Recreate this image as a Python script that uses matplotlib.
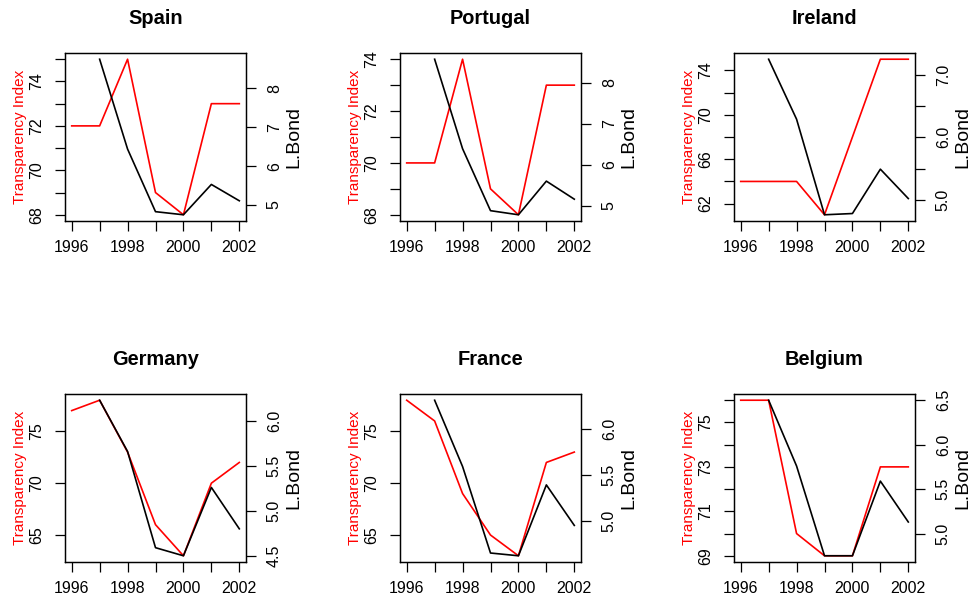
import matplotlib
matplotlib.use("Agg")
import matplotlib.pyplot as plt
import numpy as np

plt.rcParams['font.family'] = ['Liberation Sans', 'DejaVu Sans']

years = [1996, 1997, 1998, 1999, 2000, 2001, 2002]
countries = ["Spain", "Portugal", "Ireland", "Germany", "France", "Belgium"]

# transparency index (red, left axis)
ti_spain = [72, 72, 75, 69, 68, 73, 73]
ti_portugal = [70, 70, 74, 69, 68, 73, 73]
ti_ireland = [64, 64, 64, 61, 68, 75, 75]
ti_germany = [77, 78, 73, 66, 63, 70, 72]
ti_france = [78, 76, 69, 65, 63, 72, 73]
ti_belgium = [76, 76, 70, 69, 69, 73, 73]

# long bond yield (black, right axis), no value for 1996
bond_spain = [np.nan, 8.75, 6.44, 4.83, 4.75, 5.53, 5.11]
bond_portugal = [np.nan, 8.57, 6.39, 4.88, 4.78, 5.60, 5.16]
bond_ireland = [np.nan, 7.25, 6.29, 4.76, 4.78, 5.49, 5.02]
bond_germany = [np.nan, 6.23, 5.66, 4.59, 4.50, 5.26, 4.80]
bond_france = [np.nan, 6.31, 5.59, 4.65, 4.62, 5.39, 4.95]
bond_belgium = [np.nan, 6.50, 5.76, 4.75, 4.75, 5.59, 5.13]

ti_all = [ti_spain, ti_portugal, ti_ireland, ti_germany, ti_france, ti_belgium]
bond_all = [bond_spain, bond_portugal, bond_ireland, bond_germany, bond_france, bond_belgium]

# axis ticks: (all ticks, labelled ticks)
left_ticks = [
    (range(68, 76), [68, 70, 72, 74]),
    (range(68, 75), [68, 70, 72, 74]),
    (range(62, 75, 2), [62, 66, 70, 74]),
    ([65, 70, 75], [65, 70, 75]),
    ([65, 70, 75], [65, 70, 75]),
    (range(69, 77), [69, 71, 73, 75]),
]
right_ticks = [
    ([5, 6, 7, 8], [5, 6, 7, 8]),
    ([5, 6, 7, 8], [5, 6, 7, 8]),
    ([5.0, 5.5, 6.0, 6.5, 7.0], [5.0, 6.0, 7.0]),
    ([4.5, 5.0, 5.5, 6.0], [4.5, 5.0, 5.5, 6.0]),
    ([5.0, 5.5, 6.0], [5.0, 5.5, 6.0]),
    ([5.0, 5.5, 6.0, 6.5], [5.0, 5.5, 6.0, 6.5]),
]
one_decimal = [False, False, True, True, True, True]


def fmt(v, dec):
    return "%.1f" % v if dec else "%d" % v


def pad_lim(lo, hi):
    d = (hi - lo) * 0.04
    return lo - d, hi + d


W, H = 972, 606
fig = plt.figure(figsize=(W / 100, H / 100), dpi=100)

col_left = [65, 400, 734]
row_top = [53, 394]
aw, ah = 181, 168

for i, name in enumerate(countries):
    r, c = divmod(i, 3)
    rect = [col_left[c] / W, 1 - (row_top[r] + ah) / H, aw / W, ah / H]
    ax = fig.add_axes(rect)
    ti = ti_all[i]
    bond = np.array(bond_all[i])

    ax.plot(years, ti, color="#FF0000", lw=1.2)
    ax.set_xlim(*pad_lim(years[0], years[-1]))
    ax.set_ylim(*pad_lim(min(ti), max(ti)))
    ax.set_xticks(years)
    ax.set_xticklabels([str(y) if y % 2 == 0 else "" for y in years])
    lt, ll = left_ticks[i]
    ax.set_yticks(list(lt))
    ax.set_yticklabels([str(v) if v in ll else "" for v in lt], rotation=90, va="center")
    ax.tick_params(direction="out", length=7, width=0.9, labelsize=11.5, colors="black")
    ax.tick_params(axis="x", pad=7)
    ax.tick_params(axis="y", pad=8)
    ax.set_ylabel("Transparency Index", color="#FF0000", fontsize=11)
    ax.yaxis.set_label_coords(-0.21, 0.5)
    ax.set_title(name, fontsize=14.4, fontweight="bold", pad=21)
    for s in ax.spines.values():
        s.set_linewidth(0.9)

    ax2 = ax.twinx()
    ax2.plot(years, bond, color="black", lw=1.2)
    ax2.set_ylim(*pad_lim(np.nanmin(bond), np.nanmax(bond)))
    rt, rl = right_ticks[i]
    ax2.set_yticks(list(rt))
    ax2.set_yticklabels([fmt(v, one_decimal[i]) if v in rl else "" for v in rt],
                        rotation=90, va="center")
    ax2.tick_params(direction="out", length=7, width=0.9, labelsize=11.5, pad=8)
    ax2.set_ylabel("L.Bond", fontsize=14)
    ax2.yaxis.set_label_coords(1.215, 0.5)
    for s in ax2.spines.values():
        s.set_linewidth(0.9)

fig.savefig("out.png", dpi=100)
